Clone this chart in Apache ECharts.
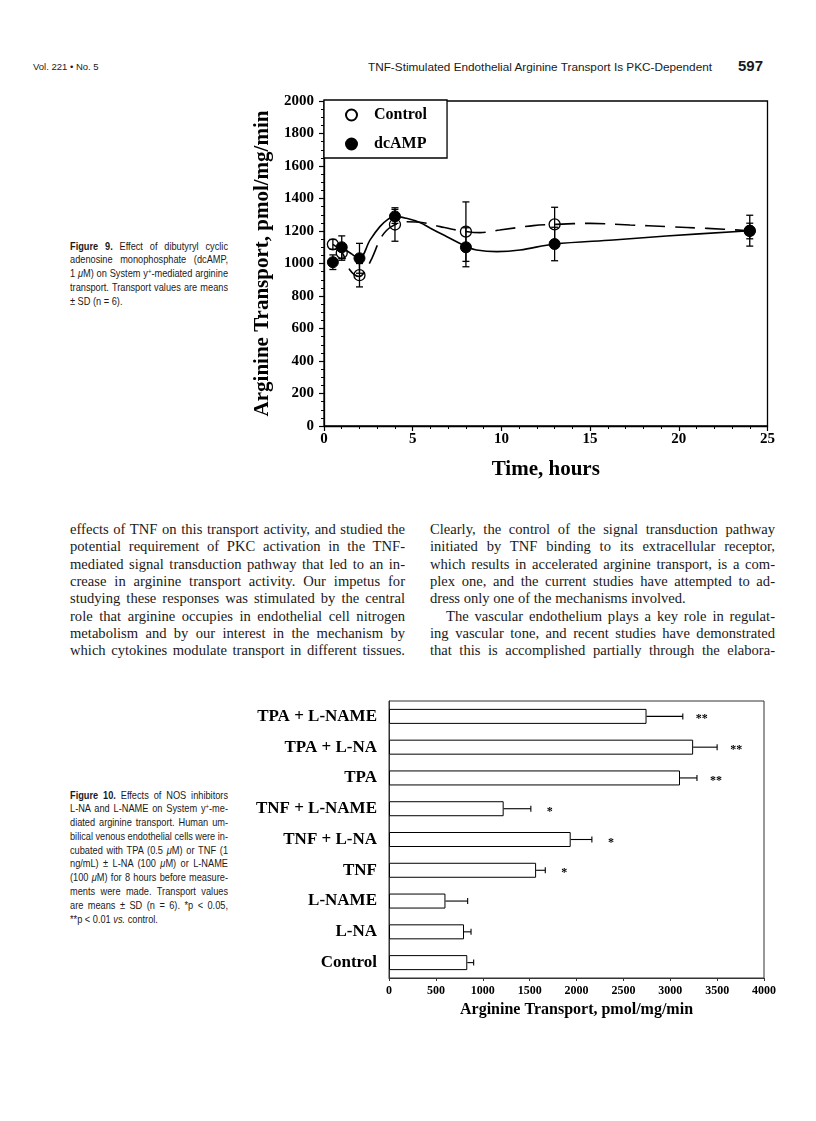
<!DOCTYPE html>
<html><head><meta charset="utf-8">
<script src="https://cdn.jsdelivr.net/npm/echarts@6/dist/echarts.min.js"></script>
<style>
html,body{margin:0;padding:0;background:#fff;}
#page{position:relative;width:816px;height:1121px;overflow:hidden;background:#fff;}
.ln{position:absolute;white-space:nowrap;}
.sans{font-family:'Liberation Sans',Arial,Helvetica,sans-serif;color:#1a1a1a;}
.serif{font-family:'Liberation Serif','Times New Roman',serif;color:#1a1a1a;}
.just{text-align:justify;text-align-last:justify;}
sup{font-size:65%;line-height:0;vertical-align:0.45em;}
#c1{position:absolute;left:240px;top:90px;width:560px;height:400px;}
#c2{position:absolute;left:240px;top:690px;width:560px;height:360px;}
</style></head>
<body><div id="page"><div id="c1"></div><div id="c2"></div></div>
<script>
// ---------- Figure 9 data ----------
const timePts   = [0.5, 1, 2, 4, 8, 13, 24];
const controlV  = [1118, 1065, 928, 1240, 1196, 1241, 1200];
const controlSD = [30, 45, 72, 103, 183, 105, 48];
const dcampV    = [1008, 1100, 1032, 1290, 1100, 1120, 1202];
const dcampSD   = [45, 70, 92, 43, 120, 103, 95];
// fitted curves as drawn in the figure
const ctlCurveT = [0.5, 1.0, 1.45, 2.0, 2.4, 2.7, 3.25, 3.8, 4.65, 5.6, 6.55, 7.7, 8.8, 9.9, 11.8, 13.1, 15.0, 17.25, 19.3, 21.6, 24.0];
const ctlCurveV = [1118, 1073, 962, 920, 970, 1032, 1165, 1227, 1257, 1251, 1227, 1202, 1190, 1206, 1233, 1241, 1247, 1237, 1227, 1216, 1202];
const dcCurveT  = [1.0, 1.5, 2.0, 2.6, 3.15, 3.6, 4.0, 4.65, 5.4, 6.0, 6.75, 8.05, 8.6, 9.75, 11.05, 13.0, 16.3, 19.3, 24.0];
const dcCurveV  = [1103, 1063, 1032, 1145, 1227, 1272, 1290, 1278, 1252, 1217, 1175, 1103, 1083, 1073, 1083, 1120, 1145, 1169, 1202];
const xTicks9 = [0, 5, 10, 15, 20, 25];
const yTicks9 = [0, 200, 400, 600, 800, 1000, 1200, 1400, 1600, 1800, 2000];

// ---------- Figure 10 data ----------
const categories = ['TPA + L-NAME', 'TPA + L-NA', 'TPA', 'TNF + L-NAME', 'TNF + L-NA', 'TNF', 'L-NAME', 'L-NA', 'Control'];
const transport  = [2747, 3244, 3104, 1223, 1938, 1569, 602, 800, 835];
const transportSD= [387, 256, 181, 290, 226, 98, 237, 75, 68];
const significance = ['**', '**', '**', '*', '*', '*', '', '', ''];
const xTicks10 = [0, 500, 1000, 1500, 2000, 2500, 3000, 3500, 4000];

// ---------- page text ----------
const page = document.getElementById('page');
function addLine(html, x, yc, cls, style, width, lh){
  const d = document.createElement('div');
  d.className = 'ln ' + cls;
  lh = lh || 16;
  d.style.left = x + 'px';
  d.style.top = (yc - lh/2) + 'px';
  d.style.lineHeight = lh + 'px';
  d.style.height = lh + 'px';
  if (width) d.style.width = width + 'px';
  Object.assign(d.style, style || {});
  d.innerHTML = html;
  page.appendChild(d);
  return d;
}
function fitWidth(d, w){
  const sw = d.scrollWidth;
  if (sw > w + 0.5){ d.style.transformOrigin = 'left center'; d.style.transform = 'scaleX(' + (w/sw) + ')'; }
}
function fitExact(d, w){
  const r = d.getBoundingClientRect().width;
  d.style.transformOrigin = 'left center'; d.style.transform = 'scaleX(' + (w/r) + ')';
}
// header
addLine('Vol. 221 • No. 5', 33, 67, 'sans', {fontSize:'9.5px'});
const ttl = addLine('TNF-Stimulated Endothelial Arginine Transport Is PKC-Dependent', 368, 67, 'sans', {fontSize:'11.5px'});
fitExact(ttl, 344);
addLine('597', 738, 66, 'sans', {fontSize:'15px', fontWeight:'bold'});

// captions: justified, slightly condensed sans
function caption(lines, y0, step){
  const W = 180, S = 158/180;
  lines.forEach((t,i)=>{
    const last = i === lines.length-1;
    const d = addLine(t, 70, y0 + i*step, 'sans' + (last ? '' : ' just'), {fontSize:'10.5px'}, last ? null : W, 13);
    let s = S;
    if (d.scrollWidth > W + 0.5) s = S * W / d.scrollWidth;
    d.style.transformOrigin = 'left center';
    d.style.transform = 'scaleX(' + s + ')';
  });
}
caption([
 '<b>Figure 9.</b> Effect of dibutyryl cyclic',
 'adenosine monophosphate (dcAMP,',
 '1 <i>μ</i>M) on System y<sup>+</sup>-mediated arginine',
 'transport. Transport values are means',
 '± SD (n = 6).'
], 246, 13.75);
caption([
 '<b>Figure 10.</b> Effects of NOS inhibitors',
 'L-NA and L-NAME on System y<sup>+</sup>-me-',
 'diated arginine transport. Human um-',
 'bilical venous endothelial cells were in-',
 'cubated with TPA (0.5 <i>μ</i>M) or TNF (1',
 'ng/mL) ± L-NA (100 <i>μ</i>M) or L-NAME',
 '(100 <i>μ</i>M) for 8 hours before measure-',
 'ments were made. Transport values',
 'are means ± SD (n = 6). *p &lt; 0.05,',
 '**p &lt; 0.01 <i>vs.</i> control.'
], 795, 13.78);

// body columns
const leftCol = [
 'effects of TNF on this transport activity, and studied the',
 'potential requirement of PKC activation in the TNF-',
 'mediated signal transduction pathway that led to an in-',
 'crease in arginine transport activity. Our impetus for',
 'studying these responses was stimulated by the central',
 'role that arginine occupies in endothelial cell nitrogen',
 'metabolism and by our interest in the mechanism by',
 'which cytokines modulate transport in different tissues.'
];
const rightCol = [
 'Clearly, the control of the signal transduction pathway',
 'initiated by TNF binding to its extracellular receptor,',
 'which results in accelerated arginine transport, is a com-',
 'plex one, and the current studies have attempted to ad-',
 'dress only one of the mechanisms involved.',
 'The vascular endothelium plays a key role in regulat-',
 'ing vascular tone, and recent studies have demonstrated',
 'that this is accomplished partially through the elabora-'
];
leftCol.forEach((t,i)=>{ const d = addLine(t, 70, 529.5 + i*17.33, 'serif just', {fontSize:'14.6px'}, 335, 17); fitWidth(d, 335); });
rightCol.forEach((t,i)=>{
  let x = 430, w = 345, cls = 'serif just';
  if (i === 4) cls = 'serif';
  if (i === 5){ x = 446; w = 329; }
  const d = addLine(t, x, 529.5 + i*17.33, cls, {fontSize:'14.6px'}, i===4 ? null : w, 17);
  fitWidth(d, w);
});

// ---------- charts ----------
const serif = "'Liberation Serif','Times New Roman',serif";
const black = '#000';
const plain = v => String(v);

function zip(a, b){ return a.map((v,i)=>[v, b[i]]); }

function vErr(params, api){
  const x = api.value(0), y = api.value(1), e = api.value(2);
  const t = api.coord([x, y + e]), b = api.coord([x, y - e]);
  const hw = 3.5, st = {stroke: black, lineWidth: 1.3};
  return {type:'group', children:[
    {type:'line', shape:{x1:t[0], y1:t[1], x2:b[0], y2:b[1]}, style:st},
    {type:'line', shape:{x1:t[0]-hw, y1:t[1], x2:t[0]+hw, y2:t[1]}, style:st},
    {type:'line', shape:{x1:b[0]-hw, y1:b[1], x2:b[0]+hw, y2:b[1]}, style:st}
  ]};
}

const c1 = echarts.init(document.getElementById('c1'));
c1.setOption({
  animation:false,
  backgroundColor:'transparent',
  grid:{left:84, top:11, width:443.5, height:325, show:true, borderColor:black, borderWidth:1.3, backgroundColor:'transparent'},
  legend:{
    data:['Control','dcAMP'], orient:'vertical', left:84, top:10,
    padding:[7,20,6,21], itemGap:13, itemWidth:11, itemHeight:11,
    backgroundColor:'#fff', borderColor:black, borderWidth:1.3, selectedMode:false,
    textStyle:{fontFamily:serif, fontWeight:'bold', fontSize:16, color:black, padding:[0,0,0,12]}
  },
  xAxis:{
    type:'value', min:xTicks9[0], max:xTicks9[xTicks9.length-1], interval:5,
    axisLine:{show:true, lineStyle:{color:black, width:1.3}},
    axisTick:{show:true, length:5, lineStyle:{color:black, width:1.2}},
    minorTick:{show:true, splitNumber:5, length:3, lineStyle:{color:black, width:1}},
    splitLine:{show:false},
    axisLabel:{color:black, fontFamily:serif, fontWeight:'bold', fontSize:15, margin:6, formatter:plain},
    name:'Time, hours', nameLocation:'middle', nameGap:33,
    nameTextStyle:{color:black, fontFamily:serif, fontWeight:'bold', fontSize:21}
  },
  yAxis:{
    type:'value', min:yTicks9[0], max:yTicks9[yTicks9.length-1], interval:200,
    axisLine:{show:true, lineStyle:{color:black, width:1.3}},
    axisTick:{show:true, length:5, lineStyle:{color:black, width:1.2}},
    minorTick:{show:true, splitNumber:4, length:3, lineStyle:{color:black, width:1}},
    splitLine:{show:false},
    axisLabel:{color:black, fontFamily:serif, fontWeight:'bold', fontSize:15, margin:10, formatter:plain},
    name:'Arginine Transport, pmol/mg/min', nameLocation:'middle', nameGap:37,
    nameTextStyle:{color:black, fontFamily:serif, fontWeight:'bold', fontSize:21}
  },
  series:[
    {name:'Control', type:'scatter', data:zip(timePts, controlV), symbol:'circle', symbolSize:11,
     itemStyle:{color:'rgba(255,255,255,0)', borderColor:black, borderWidth:1.3, opacity:1}, z:2},
    {name:'Control fit', type:'line', data:zip(ctlCurveT, ctlCurveV), smooth:0.35, showSymbol:false, symbol:'none',
     lineStyle:{color:black, width:1.6, type:[20,10]}, z:3},
    {name:'dcAMP fit', type:'line', data:zip(dcCurveT, dcCurveV), smooth:0.35, showSymbol:false, symbol:'none',
     lineStyle:{color:black, width:1.6}, z:3},
    {name:'errC', type:'custom', renderItem:vErr, data:timePts.map((t,i)=>[t, controlV[i], controlSD[i]]), encode:{x:0, y:1}, z:4},
    {name:'errD', type:'custom', renderItem:vErr, data:timePts.map((t,i)=>[t, dcampV[i], dcampSD[i]]), encode:{x:0, y:1}, z:4},
    {name:'dcAMP', type:'scatter', data:zip(timePts, dcampV), symbol:'circle', symbolSize:11,
     itemStyle:{color:black, borderColor:black, borderWidth:1, opacity:1}, z:5}
  ]
});

function hErr(params, api){
  const v = api.value(0), c = api.value(1), e = api.value(2);
  const a = api.coord([v, c]), b = api.coord([v + e, c]);
  const hh = 3, st = {stroke: black, lineWidth: 1.1};
  const kids = [
    {type:'line', shape:{x1:a[0], y1:a[1], x2:b[0], y2:b[1]}, style:st},
    {type:'line', shape:{x1:b[0], y1:b[1]-hh, x2:b[0], y2:b[1]+hh}, style:st}
  ];
  const s = significance[params.dataIndex];
  if (s) kids.push({type:'text', x:b[0] + 19, y:b[1] + 3,
    style:{text:s, textAlign:'center', textVerticalAlign:'middle', font:'bold 12px ' + serif, fill:black}});
  return {type:'group', children:kids};
}

const c2 = echarts.init(document.getElementById('c2'));
c2.setOption({
  animation:false,
  grid:{left:149, top:11, width:375, height:277, show:true, borderColor:'#333', borderWidth:1, backgroundColor:'transparent'},
  xAxis:{
    type:'value', min:xTicks10[0], max:xTicks10[xTicks10.length-1], interval:500,
    axisLine:{show:true, lineStyle:{color:'#333', width:1}},
    axisTick:{show:true, length:3, lineStyle:{color:'#333'}},
    splitLine:{show:false},
    axisLabel:{color:black, fontFamily:serif, fontWeight:'bold', fontSize:12, margin:7, formatter:plain},
    name:'Arginine Transport, pmol/mg/min', nameLocation:'middle', nameGap:24,
    nameTextStyle:{color:black, fontFamily:serif, fontWeight:'bold', fontSize:16}
  },
  yAxis:{
    type:'category', data:categories, inverse:true,
    axisLine:{show:true, lineStyle:{color:'#333', width:1}},
    axisTick:{show:false},
    axisLabel:{color:black, fontFamily:serif, fontWeight:'bold', fontSize:17, margin:12}
  },
  series:[
    {type:'bar', data:transport, barWidth:15,
     itemStyle:{color:'#fff', borderColor:black, borderWidth:1}, z:2},
    {type:'custom', renderItem:hErr, data:transport.map((v,i)=>[v, i, transportSD[i]]), encode:{x:0, y:1}, z:3}
  ]
});
</script></body></html>
